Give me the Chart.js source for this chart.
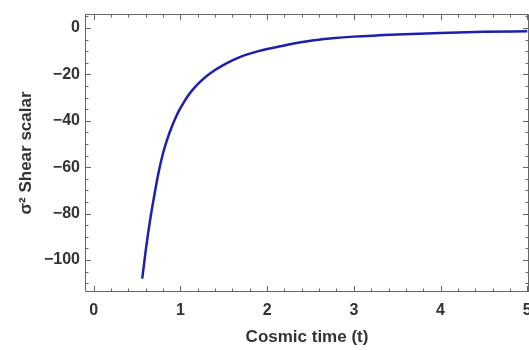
<!DOCTYPE html>
<html>
<head>
<meta charset="utf-8">
<script src="https://cdn.jsdelivr.net/npm/chart.js@4/dist/chart.umd.min.js"></script>
<style>
  html, body { margin: 0; padding: 0; background: #fff; }
  #wrap { width: 529px; height: 350px; position: relative; }
</style>
</head>
<body>
<div id="wrap"><canvas id="c" width="529" height="350"></canvas></div>
<script>
// ---- data ----
const cosmicTime = [0.56, 0.6, 0.65, 0.7, 0.75, 0.8, 0.85, 0.9, 0.95, 1.0, 1.1, 1.2, 1.3, 1.4, 1.5, 1.6, 1.7, 1.8, 1.9, 2.0, 2.25, 2.5, 2.75, 3.0, 3.5, 4.0, 4.5, 5.0];
const shearScalar = [-108, -96, -83, -72, -62, -54, -47.8, -42.7, -38.3, -34.6, -28.6, -24.2, -20.8, -18.1, -15.9, -14.0, -12.4, -11.1, -10.0, -9.1, -7.1, -5.5, -4.5, -3.75, -2.8, -2.15, -1.7, -1.4];
const xTickValues = [0, 1, 2, 3, 4, 5];
const yTickValues = [0, -20, -40, -60, -80, -100];
const xMinorStep = 0.2;
const yMinorStep = 5;
const xTitle = 'Cosmic time (t)';
const yTitle = 'σ² Shear scalar';

const points = cosmicTime.map((t, i) => ({ x: t, y: shearScalar[i] }));

const FONT = '"Liberation Sans", Arial, sans-serif';
const TEXT = '#333333';
const FRAME = '#666666';

const framePlugin = {
  id: 'frameTicks',
  afterDatasetsDraw(chart) {
    const { ctx, chartArea: a, scales } = chart;
    const xs = scales.x, ys = scales.y;
    ctx.save();
    ctx.strokeStyle = FRAME;
    ctx.lineWidth = 1;
    ctx.beginPath();
    ctx.moveTo(a.left + 0.5, a.top + 0.5);
    ctx.lineTo(a.right - 0.5, a.top + 0.5);
    ctx.moveTo(a.right - 0.5, a.top + 0.5);
    ctx.lineTo(a.right - 0.5, a.bottom - 0.5);
    ctx.moveTo(a.left + 0.5, a.top);
    ctx.lineTo(a.left + 0.5, a.bottom - 0.5);
    ctx.lineTo(a.right, a.bottom - 0.5);
    ctx.stroke();
    ctx.beginPath();
    for (let v = 0; v <= 5.0001; v += xMinorStep) {
      const major = Math.abs(v - Math.round(v)) < 1e-6;
      const len = major ? 6 : 3.5;
      const px = Math.round(xs.getPixelForValue(v)) + 0.5;
      ctx.moveTo(px, a.bottom);
      ctx.lineTo(px, a.bottom - len);
      ctx.moveTo(px, a.top);
      ctx.lineTo(px, a.top + len);
    }
    for (let v = -110; v <= 5; v += yMinorStep) {
      const major = v % 20 === 0;
      const len = major ? 6 : 3.5;
      const py = Math.round(ys.getPixelForValue(v)) + 0.5;
      ctx.moveTo(a.left, py);
      ctx.lineTo(a.left + len, py);
      ctx.moveTo(a.right, py);
      ctx.lineTo(a.right - len, py);
    }
    ctx.stroke();
    ctx.restore();
  }
};

new Chart(document.getElementById('c'), {
  type: 'line',
  data: {
    datasets: [{
      data: points,
      borderColor: 'rgb(30,30,175)',
      borderWidth: 2.5,
      pointRadius: 0,
      fill: false,
      tension: 0.4,
      cubicInterpolationMode: 'monotone'
    }]
  },
  options: {
    responsive: false,
    animation: false,
    devicePixelRatio: 1,
    layout: { padding: { top: 14, right: 0, left: 0, bottom: 0 } },
    plugins: { legend: { display: false }, tooltip: { enabled: false } },
    scales: {
      x: {
        type: 'linear',
        min: -0.1,
        max: 5.02,
        afterBuildTicks(scale) { scale.ticks = xTickValues.map(v => ({ value: v })); },
        afterFit(scale) { scale.height = 58; scale.paddingRight = 0; scale.paddingLeft = 0; },
        grid: { display: false, drawTicks: false },
        border: { display: false },
        ticks: {
          padding: 9,
          maxRotation: 0,
          autoSkip: false,
          color: TEXT,
          font: { family: FONT, size: 16, weight: 'bold' },
          callback: v => String(v).replace('-', '\u2212')
        },
        title: {
          display: true,
          text: xTitle,
          color: TEXT,
          font: { family: FONT, size: 17, weight: 'bold' },
          padding: { top: 0, bottom: 2 }
        }
      },
      y: {
        type: 'linear',
        min: -113.8,
        max: 6,
        afterBuildTicks(scale) { scale.ticks = yTickValues.map(v => ({ value: v })); },
        afterFit(scale) { scale.width = 85; scale.paddingTop = 0; scale.paddingBottom = 0; },
        grid: { display: false, drawTicks: false },
        border: { display: false },
        ticks: {
          padding: 5,
          autoSkip: false,
          color: TEXT,
          font: { family: FONT, size: 16, weight: 'bold' },
          callback: v => String(v).replace('-', '\u2212')
        },
        title: {
          display: true,
          text: yTitle,
          color: TEXT,
          font: { family: FONT, size: 17, weight: 'bold' },
          padding: { top: 16, bottom: 0 }
        }
      }
    }
  },
  plugins: [framePlugin]
});
</script>
</body>
</html>
